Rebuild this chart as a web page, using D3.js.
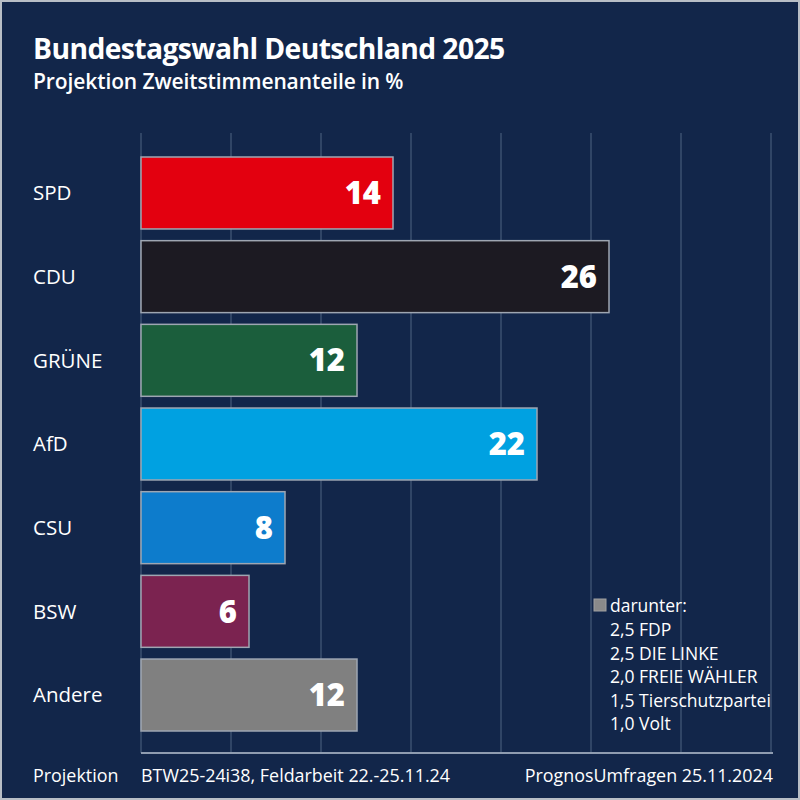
<!DOCTYPE html>
<html><head><meta charset="utf-8">
<script src="https://cdn.jsdelivr.net/npm/d3@7"></script>
<style>
html,body{margin:0;padding:0;background:#12264a;}
svg{display:block;}
text{font-family:"Open Sans","Noto Sans",sans-serif;fill:#fff;}
</style></head>
<body>
<svg id="chart" width="800" height="800"></svg>
<script>
const parties = ["SPD","CDU","GRÜNE","AfD","CSU","BSW","Andere"];
const values = [14,26,12,22,8,6,12];
const colors = ["#e3000f","#1c1a22","#1b5e3c","#00a1e1","#0d7ccc","#7b2350","#808080"];
const xTicks = [0,5,10,15,20,25,30,35];
const otherValues = ["2,5","2,5","2,0","1,5","1,0"];
const otherNames = ["FDP","DIE LINKE","FREIE WÄHLER","Tierschutzpartei","Volt"];

const svg = d3.select("#chart");
svg.append("rect").attr("x",1).attr("y",1).attr("width",798).attr("height",798)
  .attr("fill","#12264a").attr("stroke","#b8bec6").attr("stroke-width",2);

svg.append("text").attr("x",33).attr("y",59).attr("font-size",28.3).attr("font-weight",700)
  .attr("letter-spacing",-0.6)
  .text("Bundestagswahl Deutschland 2025");
svg.append("text").attr("x",33).attr("y",89).attr("font-size",21).attr("font-weight",600)
  .attr("letter-spacing",-0.1)
  .text("Projektion Zweitstimmenanteile in %");

const x = d3.scaleLinear().domain([0,35]).range([141,771]);
const y = d3.scaleBand().domain(parties).range([157,731]).paddingInner(0.14).paddingOuter(0);

// gridlines
svg.append("g").selectAll("line").data(xTicks).join("line")
  .attr("x1",d=>x(d)).attr("x2",d=>x(d)).attr("y1",133).attr("y2",753)
  .attr("stroke","#3b5070").attr("stroke-width",1.5);

// baseline
svg.append("line").attr("x1",x(0)).attr("x2",x(35)+2).attr("y1",753).attr("y2",753)
  .attr("stroke","#8f9cb0").attr("stroke-width",2);

const data = parties.map((p,i)=>({p, v:values[i], c:colors[i]}));

svg.append("g").selectAll("rect").data(data).join("rect")
  .attr("x",x(0)).attr("y",d=>y(d.p)).attr("width",d=>x(d.v)-x(0)).attr("height",y.bandwidth())
  .attr("fill",d=>d.c).attr("stroke","#9ea6b2").attr("stroke-width",1.5);

svg.append("g").selectAll("text").data(data).join("text")
  .attr("x",33).attr("y",d=>y(d.p)+y.bandwidth()/2).attr("dy","0.36em")
  .attr("font-size",20.5).text(d=>d.p);

svg.append("g").selectAll("text").data(data).join("text")
  .attr("x",d=>x(d.v)-12).attr("y",d=>y(d.p)+y.bandwidth()/2).attr("dy","0.36em")
  .attr("text-anchor","end").attr("font-size",31).attr("font-weight",800)
  .text(d=>d.v);

// legend
svg.append("rect").attr("x",594).attr("y",599).attr("width",12).attr("height",12)
  .attr("fill","#8a8a8a").attr("stroke","#a0a0a0").attr("stroke-width",1);
svg.append("text").attr("x",610).attr("y",612).attr("font-size",17.5).text("darunter:");
svg.append("g").selectAll("text").data(otherNames).join("text")
  .attr("x",610).attr("y",(d,i)=>636+i*23.6).attr("font-size",17.5)
  .text((d,i)=>otherValues[i]+" "+d);

// footer
svg.append("text").attr("x",33).attr("y",782).attr("font-size",17.9).text("Projektion");
svg.append("text").attr("x",141).attr("y",782).attr("font-size",17.9).text("BTW25-24i38, Feldarbeit 22.-25.11.24");
svg.append("text").attr("x",773).attr("y",782).attr("font-size",17.9).attr("text-anchor","end").text("PrognosUmfragen 25.11.2024");
</script>
</body></html>
